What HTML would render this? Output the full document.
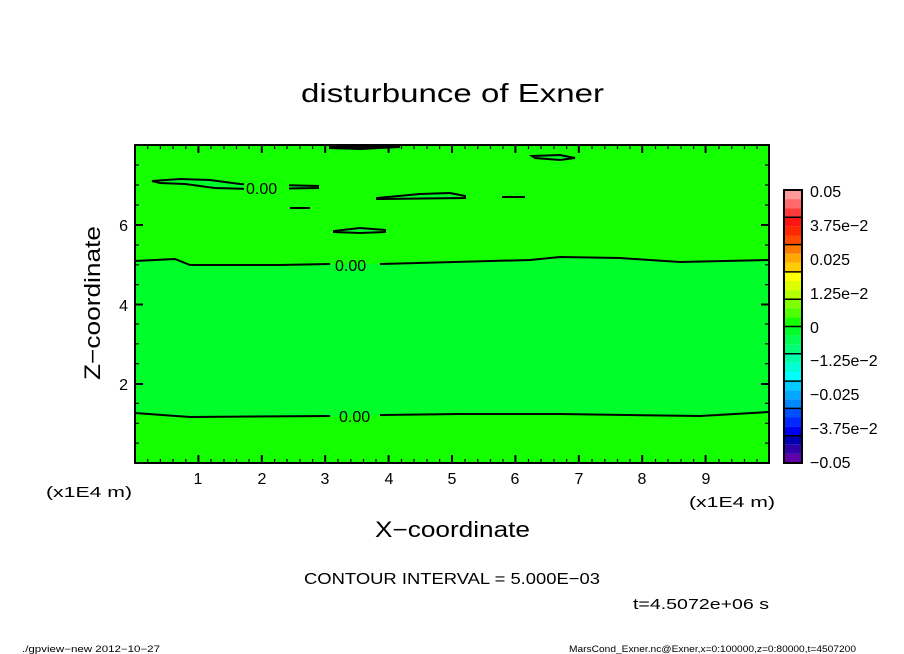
<!DOCTYPE html>
<html><head><meta charset="utf-8"><style>body{margin:0;background:#fff}svg{display:block}text{font-family:"Liberation Sans",sans-serif;fill:#000}</style></head>
<body>
<svg width="904" height="654" viewBox="0 0 904 654" xmlns="http://www.w3.org/2000/svg">
<rect width="904" height="654" fill="#fff"/>
<text x="301" y="102" font-size="26" textLength="303" lengthAdjust="spacingAndGlyphs">disturbunce of Exner</text>
<rect x="135" y="145" width="634" height="318" fill="#14ff00"/>
<path d="M135,261 L175,259 L190,265 L280,265 L330,264 L380,264 L530,260 L560,257 L620,258 L680,262 L769,260 L769,413 L700,416 L560,414 L460,414 L380,415 L330,416 L190,417 L135,413 Z" fill="#00ff2a"/>
<g fill="#00ff2a" stroke="#000" stroke-width="2">
<path d="M152,181 L180,179 L210,180 L240,184 L318,186 L318,188 L250,189 L215,188 L185,184 L160,183 Z"/>
<path d="M377,198 L420,194 L450,193 L465,196 L465,198 L377,199 Z"/>
<path d="M334,231 L360,228 L385,230 L385,232 L360,233 L334,232 Z"/>
<path d="M532,156 L560,155 L575,158 L560,160 L535,158 Z"/>
<path d="M330,146 L360,147 L400,147 L360,149 L330,148 Z"/>
</g>
<g fill="none" stroke="#000" stroke-width="2">
<path d="M290,208 L310,208"/>
<path d="M502,197 L525,197"/>
<path d="M135,261 L175,259 L190,265 L280,265 L330,264"/>
<path d="M380,264 L530,260 L560,257 L620,258 L680,262 L769,260"/>
<path d="M135,413 L190,417 L330,416"/>
<path d="M380,415 L460,414 L560,414 L700,416 L769,412"/>
</g>
<rect x="244" y="180" width="45" height="16" fill="#14ff00"/>
<text x="246" y="194" font-size="16">0.00</text>
<text x="335" y="271" font-size="16">0.00</text>
<text x="339" y="422" font-size="16">0.00</text>
<rect x="135" y="145" width="634" height="318" fill="none" stroke="#000" stroke-width="2"/>
<g stroke="#000" stroke-width="1.2">
<path d="M147.7,463v-4M160.4,463v-4M173,463v-4M185.8,463v-4M211,463v-4M224,463v-4M236.5,463v-4M249,463v-4M274.6,463v-4M287,463v-4M300,463v-4M312.6,463v-4M338,463v-4M350.8,463v-4M363.5,463v-4M376,463v-4M401.5,463v-4M414,463v-4M427,463v-4M439.6,463v-4M465,463v-4M477.8,463v-4M490.5,463v-4M503,463v-4M528.5,463v-4M541,463v-4M554,463v-4M566.6,463v-4M592,463v-4M604.8,463v-4M617.5,463v-4M630,463v-4M655.5,463v-4M668,463v-4M681,463v-4M693.6,463v-4M719,463v-4M731.8,463v-4M744.5,463v-4M757,463v-4"/>
<path d="M147.7,145v4M160.4,145v4M173,145v4M185.8,145v4M211,145v4M224,145v4M236.5,145v4M249,145v4M274.6,145v4M287,145v4M300,145v4M312.6,145v4M338,145v4M350.8,145v4M363.5,145v4M376,145v4M401.5,145v4M414,145v4M427,145v4M439.6,145v4M465,145v4M477.8,145v4M490.5,145v4M503,145v4M528.5,145v4M541,145v4M554,145v4M566.6,145v4M592,145v4M604.8,145v4M617.5,145v4M630,145v4M655.5,145v4M668,145v4M681,145v4M693.6,145v4M719,145v4M731.8,145v4M744.5,145v4M757,145v4"/>
</g>
<g stroke="#000" stroke-width="2">
<path d="M198.4,463v-8M261.8,463v-8M325.2,463v-8M388.6,463v-8M452,463v-8M515.4,463v-8M578.8,463v-8M642.2,463v-8M705.6,463v-8"/>
<path d="M198.4,145v8M261.8,145v8M325.2,145v8M388.6,145v8M452,145v8M515.4,145v8M578.8,145v8M642.2,145v8M705.6,145v8"/>
<path d="M135,384h8M135,304.5h8M135,225h8M769,384h-8M769,304.5h-8M769,225h-8"/>
</g>
<g stroke="#000" stroke-width="1.2">
<path d="M135,443.1h4M135,423.3h4M135,403.4h4M135,363.6h4M135,343.8h4M135,324h4M135,284.6h4M135,264.8h4M135,245h4M135,205h4M135,185h4M135,165h4"/>
<path d="M769,443.1h-4M769,423.3h-4M769,403.4h-4M769,363.6h-4M769,343.8h-4M769,324h-4M769,284.6h-4M769,264.8h-4M769,245h-4M769,205h-4M769,185h-4M769,165h-4"/>
</g>
<g font-size="16" text-anchor="middle">
<text x="198" y="484">1</text><text x="262" y="484">2</text><text x="325" y="484">3</text><text x="389" y="484">4</text><text x="452" y="484">5</text><text x="515" y="484">6</text><text x="579" y="484">7</text><text x="642" y="484">8</text><text x="706" y="484">9</text>
</g>
<g font-size="16" text-anchor="end">
<text x="128" y="390">2</text><text x="128" y="311">4</text><text x="128" y="231">6</text>
</g>
<text x="46" y="497" font-size="15" textLength="86" lengthAdjust="spacingAndGlyphs">(x1E4 m)</text>
<text x="689" y="507" font-size="15" textLength="86" lengthAdjust="spacingAndGlyphs">(x1E4 m)</text>
<text x="375" y="537" font-size="22" textLength="155" lengthAdjust="spacingAndGlyphs">X−coordinate</text>
<text transform="translate(100,380) rotate(-90)" font-size="22" textLength="154" lengthAdjust="spacingAndGlyphs">Z−coordinate</text>
<text x="304" y="584" font-size="16" textLength="296" lengthAdjust="spacingAndGlyphs">CONTOUR INTERVAL = 5.000E−03</text>
<text x="633" y="609" font-size="15" textLength="136" lengthAdjust="spacingAndGlyphs">t=4.5072e+06 s</text>
<text x="22" y="652" font-size="9" textLength="138" lengthAdjust="spacingAndGlyphs">./gpview−new  2012−10−27</text>
<text x="569" y="652" font-size="9" textLength="287" lengthAdjust="spacingAndGlyphs">MarsCond_Exner.nc@Exner,x=0:100000,z=0:80000,t=4507200</text>
<g>
<rect x="784" y="190" width="18" height="9.1" fill="#ff9a9a"/><rect x="784" y="199.1" width="18" height="9.1" fill="#ff6a6a"/><rect x="784" y="208.2" width="18" height="9.1" fill="#ff3a3a"/>
<rect x="784" y="217.3" width="18" height="9.1" fill="#ff1414"/><rect x="784" y="226.4" width="18" height="9.1" fill="#ff2800"/><rect x="784" y="235.5" width="18" height="9.1" fill="#ff4a00"/>
<rect x="784" y="244.6" width="18" height="9.1" fill="#ff7800"/><rect x="784" y="253.7" width="18" height="9.1" fill="#ffa800"/><rect x="784" y="262.8" width="18" height="9.1" fill="#ffcc00"/>
<rect x="784" y="271.9" width="18" height="9.1" fill="#ffff00"/><rect x="784" y="281" width="18" height="9.1" fill="#ddff00"/><rect x="784" y="290.1" width="18" height="9.1" fill="#b4ff00"/>
<rect x="784" y="299.2" width="18" height="9.1" fill="#80ff00"/><rect x="784" y="308.3" width="18" height="9.1" fill="#50ff00"/><rect x="784" y="317.4" width="18" height="9.1" fill="#14ff00"/>
<rect x="784" y="326.5" width="18" height="9.1" fill="#00ff2a"/><rect x="784" y="335.6" width="18" height="9.1" fill="#00ff50"/><rect x="784" y="344.7" width="18" height="9.1" fill="#00ff78"/>
<rect x="784" y="353.8" width="18" height="9.1" fill="#00ffaa"/><rect x="784" y="362.9" width="18" height="9.1" fill="#00ffd4"/><rect x="784" y="372" width="18" height="9.1" fill="#00ffff"/>
<rect x="784" y="381.1" width="18" height="9.1" fill="#00ccff"/><rect x="784" y="390.2" width="18" height="9.1" fill="#00a8ff"/><rect x="784" y="399.3" width="18" height="9.1" fill="#0088ff"/>
<rect x="784" y="408.4" width="18" height="9.1" fill="#0050ff"/><rect x="784" y="417.5" width="18" height="9.1" fill="#0028ff"/><rect x="784" y="426.6" width="18" height="9.1" fill="#0000f0"/>
<rect x="784" y="435.7" width="18" height="9.1" fill="#0000b0"/><rect x="784" y="444.8" width="18" height="9.1" fill="#3000a8"/><rect x="784" y="453.9" width="18" height="9.1" fill="#6000a8"/>
</g>
<g stroke="#000" stroke-width="1.5">
<path d="M784,217.3h18M784,244.6h18M784,271.9h18M784,299.2h18M784,326.5h18M784,353.8h18M784,381.1h18M784,408.4h18M784,435.7h18"/>
</g>
<rect x="784" y="190" width="18" height="273" fill="none" stroke="#000" stroke-width="2"/>
<g font-size="16">
<text x="810" y="197">0.05</text><text x="810" y="231">3.75e−2</text><text x="810" y="265">0.025</text><text x="810" y="299">1.25e−2</text><text x="810" y="333">0</text><text x="810" y="366">−1.25e−2</text><text x="810" y="400">−0.025</text><text x="810" y="434">−3.75e−2</text><text x="810" y="468">−0.05</text>
</g>
</svg>
</body></html>
